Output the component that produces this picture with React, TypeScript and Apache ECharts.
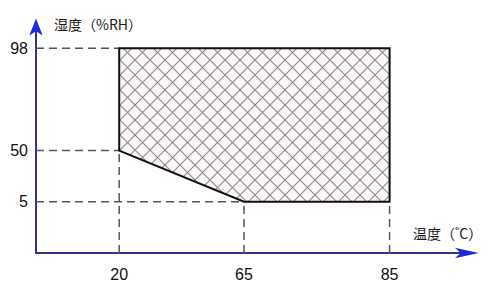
import React, { useEffect, useRef } from "react";
import * as echarts from "echarts";

// ---- data ----
const tempTicks = [20, 65, 85];
const humidityTicks = [5, 50, 98];
// operating region outline (temperature °C, humidity %RH)
const regionTemp = [20, 85, 85, 65, 20];
const regionHum = [98, 98, 5, 5, 50];
// dashed guide lines: [fromTemp, fromHum, toTemp, toHum]
const guideFromTemp = [0, 0, 0, 20, 65, 85];
const guideFromHum = [98, 50, 5, 0, 0, 0];
const guideToTemp = [20, 20, 65, 20, 65, 85];
const guideToHum = [98, 50, 5, 50, 5, 5];

const xAxisName = "温度（˚C）";
const yAxisName = "湿度（%RH）";

// ---- schematic (non-proportional) axis layout ----
const X_SLOTS = 22;
const xTickSlot = [4, 10, 17];
const Y_SLOTS = 10;
const yTickSlot = [2, 4, 8];

const xCats = Array.from({ length: X_SLOTS }, (_, i) => {
  const k = xTickSlot.indexOf(i);
  return k >= 0 ? String(tempTicks[k]) : i === 0 ? "0" : `_x${i}`;
});
const yCats = Array.from({ length: Y_SLOTS }, (_, i) => {
  const k = yTickSlot.indexOf(i);
  return k >= 0 ? String(humidityTicks[k]) : i === 0 ? "0" : `_y${i}`;
});

const xIdx = (v: number) => xCats.indexOf(String(v));
const yIdx = (v: number) => yCats.indexOf(String(v));

const tile = 15;
const hatchSvg =
  `<svg xmlns="http://www.w3.org/2000/svg" width="${tile}" height="${tile}">` +
  `<rect width="${tile}" height="${tile}" fill="#fbf6f8"/>` +
  `<g stroke="#8e878c" stroke-width="1.1">` +
  `<line x1="-2" y1="-2" x2="${tile + 2}" y2="${tile + 2}"/>` +
  `<line x1="-2" y1="${tile + 2}" x2="${tile + 2}" y2="-2"/>` +
  `<line x1="-2" y1="${tile - 2}" x2="2" y2="${tile + 2}"/>` +
  `<line x1="${tile - 2}" y1="-2" x2="${tile + 2}" y2="2"/>` +
  `<line x1="-2" y1="2" x2="2" y2="-2"/>` +
  `<line x1="${tile - 2}" y1="${tile + 2}" x2="${tile + 2}" y2="${tile - 2}"/>` +
  `</g></svg>`;
const hatchUrl = "data:image/svg+xml;charset=utf-8," + encodeURIComponent(hatchSvg);

const labelFont = '"Liberation Sans Narrow", "Liberation Sans", Arial, sans-serif';
const cjkFont = '"Noto Sans CJK SC", "Noto Sans", sans-serif';

const AXIS_COLOR = "#34348f";
const ARROW_COLOR = "#1f2cd6";

export default function App() {
  const ref = useRef<HTMLDivElement>(null);

  useEffect(() => {
    if (!ref.current) return;
    const chart = echarts.init(ref.current, null, { renderer: "svg" });

    const guideSeries = guideFromTemp.map((_, i) => ({
      type: "line",
      silent: true,
      symbol: "none",
      z: 1,
      lineStyle: { color: "#555", width: 1.5, type: [8, 5] },
      data: [
        [String(guideFromTemp[i]), String(guideFromHum[i])],
        [String(guideToTemp[i]), String(guideToHum[i])],
      ],
    }));

    const xBase = {
      type: "category",
      data: xCats,
      boundaryGap: false,
      axisTick: { show: false },
      splitLine: { show: false },
    };
    const yBase = {
      type: "category",
      data: yCats,
      boundaryGap: false,
      axisTick: { show: false },
      splitLine: { show: false },
    };

    const option: any = {
      animation: false,
      backgroundColor: "#fff",
      grid: { left: 36, right: 18.2, top: 22.6, bottom: 29, containLabel: false },
      xAxis: [
        {
          ...xBase,
          axisLine: { lineStyle: { color: AXIS_COLOR, width: 2 } },
          axisLabel: {
            interval: 0,
            margin: 13,
            color: "#111",
            fontSize: 16,
            fontFamily: labelFont,
            formatter: (v: string) => (tempTicks.map(String).includes(v) ? v : ""),
          },
        },
        {
          ...xBase,
          position: "bottom",
          z: 5,
          axisLine: {
            lineStyle: { color: ARROW_COLOR, width: 0 },
            symbol: ["none", "arrow"],
            symbolSize: [8, 24],
            symbolOffset: [0, 6],
          },
          axisLabel: { show: false },
        },
      ],
      yAxis: [
        {
          ...yBase,
          axisLine: { lineStyle: { color: AXIS_COLOR, width: 2 } },
          axisLabel: {
            interval: 0,
            margin: 8,
            color: "#111",
            fontSize: 16,
            fontFamily: labelFont,
            formatter: (v: string) => (humidityTicks.map(String).includes(v) ? v : ""),
          },
        },
        {
          ...yBase,
          position: "left",
          z: 5,
          axisLine: {
            lineStyle: { color: ARROW_COLOR, width: 0 },
            symbol: ["none", "arrow"],
            symbolSize: [10, 17],
            symbolOffset: [0, 4],
          },
          axisLabel: { show: false },
        },
      ],
      graphic: [
        {
          type: "text",
          left: 54,
          top: 17,
          style: { text: yAxisName, fontSize: 14, fontFamily: cjkFont, fill: "#1a1a1a" },
        },
        {
          type: "text",
          left: 413,
          top: 226,
          style: { text: xAxisName, fontSize: 14, fontFamily: cjkFont, fill: "#1a1a1a" },
        },
      ],
      series: [
        ...guideSeries,
        {
          type: "custom",
          silent: true,
          z: 3,
          data: [[0, 0]],
          renderItem: (params: any, api: any) => {
            if (params.dataIndex !== 0) return null;
            const pts = regionTemp.map((t, i) => api.coord([xIdx(t), yIdx(regionHum[i])]));
            return {
              type: "polygon",
              shape: { points: pts },
              style: {
                fill: {
                  image: hatchUrl,
                  repeat: "repeat",
                  imageWidth: tile,
                  imageHeight: tile,
                },
                stroke: "#111",
                lineWidth: 2,
              },
            };
          },
        },
      ],
    };

    chart.setOption(option);
    return () => chart.dispose();
  }, []);

  return (
    <div
      ref={ref}
      style={{ position: "fixed", left: 0, top: 0, width: 491, height: 282, background: "#fff" }}
    />
  );
}
